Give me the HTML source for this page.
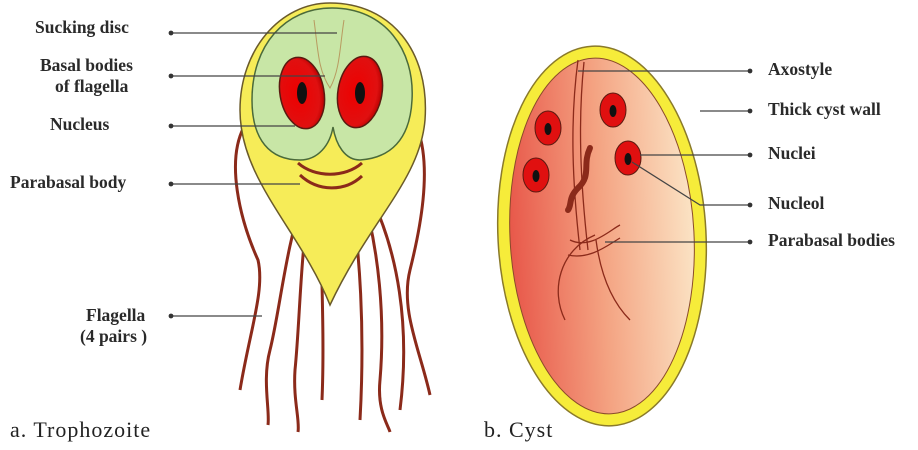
<!DOCTYPE html>
<html><head><meta charset="utf-8"><style>
html,body{margin:0;padding:0;background:#fff;width:918px;height:450px;overflow:hidden}
svg{display:block}
.lbl{font-family:"Liberation Serif",serif;font-weight:bold;font-size:17.5px;fill:#2a2a2a}
.cap{font-family:"Liberation Serif",serif;font-size:22px;letter-spacing:1px;fill:#222}
</style></head><body>
<svg width="918" height="450" viewBox="0 0 918 450">
<defs>
<linearGradient id="cystg" x1="0" x2="1" y1="0" y2="0">
<stop offset="0" stop-color="#e8584a"/><stop offset="0.5" stop-color="#f4a382"/><stop offset="1" stop-color="#fbe3c4"/></linearGradient>
<radialGradient id="eye" cx="0.4" cy="0.5" r="0.6"><stop offset="0" stop-color="#e00"/><stop offset="0.8" stop-color="#e01010"/><stop offset="1" stop-color="#b80000"/></radialGradient>
<marker id="ar" markerWidth="6" markerHeight="6" refX="3" refY="3" orient="auto"><circle cx="3" cy="3" r="2" fill="#333"/></marker>
</defs>
<g>
<g fill="none" stroke="#8b2a1a" stroke-width="3">
<path d="M245,125 C225,160 240,220 258,260 C265,290 250,330 240,390"/>
<path d="M418,130 C432,170 420,230 410,270 C400,310 420,350 430,395"/>
<path d="M305,190 C285,250 280,310 270,350 C262,380 270,410 268,425"/>
<path d="M310,195 C300,260 300,320 295,370 C293,400 300,420 298,432"/>
<path d="M320,170 C320,250 325,330 322,400"/>
<path d="M350,190 C360,250 365,330 360,420"/>
<path d="M360,185 C380,250 385,320 380,380 C377,410 388,425 390,432"/>
<path d="M365,185 C400,250 410,330 400,410"/>
</g>
<path d="M330,3 C390,3 430,50 425,120 C420,180 370,220 330,305 C300,230 240,180 240,110 C240,50 280,3 330,3 Z" fill="#f6ec58" stroke="#6a5a2a" stroke-width="1.5"/>
<path d="M332,8 C385,8 415,50 412,100 C410,140 390,158 360,160 C345,160 336,145 333,127 C330,145 318,160 300,160 C270,160 252,140 252,100 C252,45 285,8 332,8 Z" fill="#c8e6a6" stroke="#4a6a3a" stroke-width="1.5"/>
<path d="M314,20 C318,50 318,70 330,88 C340,70 340,45 344,20" fill="none" stroke="#b89a60" stroke-width="1"/>
<ellipse cx="302" cy="93" rx="22" ry="36" transform="rotate(-10 302 93)" fill="url(#eye)" stroke="#5a1a10" stroke-width="1.5"/>
<ellipse cx="360" cy="92" rx="22" ry="36" transform="rotate(10 360 92)" fill="url(#eye)" stroke="#5a1a10" stroke-width="1.5"/>
<ellipse cx="302" cy="93" rx="5" ry="11" fill="#111"/>
<ellipse cx="360" cy="93" rx="5" ry="11" fill="#111"/>
<path d="M298,163 C315,178 345,178 362,163 M300,175 C318,192 345,192 362,176" fill="none" stroke="#8b2a1a" stroke-width="3"/>
</g>
<g stroke="#444" stroke-width="1.2" marker-start="url(#ar)">
<line x1="171" y1="33" x2="337" y2="33"/>
<line x1="171" y1="76" x2="325" y2="76"/>
<line x1="171" y1="126" x2="295" y2="126"/>
<line x1="171" y1="184" x2="300" y2="184"/>
<line x1="171" y1="316" x2="262" y2="316"/>
</g>
<text class="lbl" x="35" y="33">Sucking disc</text>
<text class="lbl" x="40" y="71">Basal bodies</text>
<text class="lbl" x="55" y="92">of flagella</text>
<text class="lbl" x="50" y="130">Nucleus</text>
<text class="lbl" x="10" y="188">Parabasal body</text>
<text class="lbl" x="86" y="321">Flagella</text>
<text class="lbl" x="80" y="342">(4 pairs )</text>
<g>
<ellipse cx="602" cy="236" rx="104" ry="190" transform="rotate(-3 602 236)" fill="#f6ec3a" stroke="#8a7a2a" stroke-width="1.5"/>
<ellipse cx="602" cy="236" rx="92" ry="178" transform="rotate(-3 602 236)" fill="url(#cystg)" stroke="#8a4a2a" stroke-width="1"/>
<g fill="none" stroke="#8b2a1a" stroke-width="1.3">
<path d="M578,60 C570,120 572,180 580,250"/>
<path d="M584,62 C578,120 580,180 588,250"/>
<path d="M570,240 C590,250 610,230 620,225 M568,255 C590,260 608,245 620,238"/>
<path d="M595,235 C560,250 550,290 565,320"/>
<path d="M596,240 C600,270 610,300 630,320"/>
</g>
<path d="M590,148 C582,165 592,175 578,188 C568,198 572,205 568,210" fill="none" stroke="#8b2a1a" stroke-width="6" stroke-linecap="round"/>
<g fill="#e01010" stroke="#5a1a10" stroke-width="1">
<ellipse cx="548" cy="128" rx="13" ry="17"/><ellipse cx="613" cy="110" rx="13" ry="17"/>
<ellipse cx="536" cy="175" rx="13" ry="17"/><ellipse cx="628" cy="158" rx="13" ry="17"/>
</g>
<g fill="#111"><ellipse cx="548" cy="129" rx="3.5" ry="6"/><ellipse cx="613" cy="111" rx="3.5" ry="6"/><ellipse cx="536" cy="176" rx="3.5" ry="6"/><ellipse cx="628" cy="159" rx="3.5" ry="6"/></g>
</g>
<g stroke="#444" stroke-width="1.2" fill="none">
<line x1="578" y1="71" x2="750" y2="71" marker-end="url(#ar)"/>
<line x1="700" y1="111" x2="750" y2="111" marker-end="url(#ar)"/>
<line x1="640" y1="155" x2="750" y2="155" marker-end="url(#ar)"/>
<polyline points="632,162 700,205 750,205" marker-end="url(#ar)"/>
<line x1="605" y1="242" x2="750" y2="242" marker-end="url(#ar)"/>
</g>
<text class="lbl" x="768" y="75">Axostyle</text>
<text class="lbl" x="768" y="115">Thick cyst wall</text>
<text class="lbl" x="768" y="159">Nuclei</text>
<text class="lbl" x="768" y="209">Nucleol</text>
<text class="lbl" x="768" y="246">Parabasal bodies</text>
<text class="cap" x="10" y="437">a. Trophozoite</text>
<text class="cap" x="484" y="437">b. Cyst</text>
</svg>
</body></html>
